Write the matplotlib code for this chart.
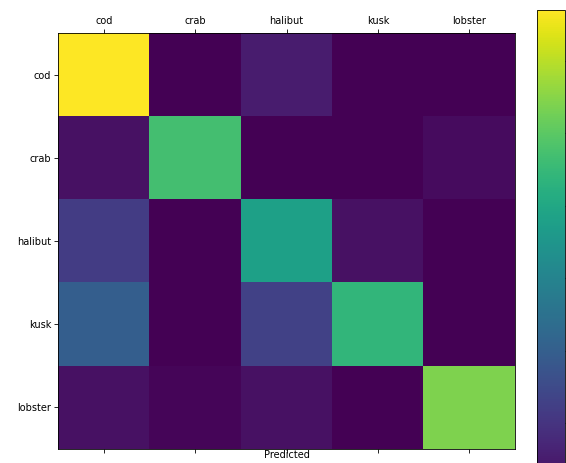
import numpy as np
import matplotlib
matplotlib.use("Agg")
import matplotlib.pyplot as plt

labels = ["cod", "crab", "halibut", "kusk", "lobster"]

# rows = actual, columns = predicted
cod_row = [67, 0, 5, 0, 0]
crab_row = [3, 47, 0, 0, 2]
halibut_row = [12, 0, 38, 3, 0]
kusk_row = [20, 0, 13, 44, 0]
lobster_row = [3, 1, 3, 0, 54]

cm = np.array([cod_row, crab_row, halibut_row, kusk_row, lobster_row])

fig = plt.figure(figsize=(5.66, 4.63), dpi=100)
ax = fig.add_axes([58 / 566, 14 / 463, 457 / 566, 416 / 463])
im = ax.matshow(cm, cmap="viridis", aspect="auto", vmin=0, vmax=67)

ax.set_xticks(range(len(labels)))
ax.set_yticks(range(len(labels)))
ax.set_xticklabels(labels, fontsize=7)
ax.set_yticklabels(labels, fontsize=7)
ax.tick_params(length=3, width=0.6, pad=2)
ax.xaxis.set_ticks_position("both")
ax.set_xlabel("Predicted", fontsize=7, labelpad=-2)
for s in ax.spines.values():
    s.set_linewidth(0.6)

cax = fig.add_axes([537 / 566, -33 / 463, 28 / 566, 486 / 463])
cb = fig.colorbar(im, cax=cax)
cb.ax.tick_params(length=3, width=0.6)
cb.ax.set_yticklabels([])
cb.outline.set_linewidth(0.6)

fig.savefig("out.png", dpi=100)
